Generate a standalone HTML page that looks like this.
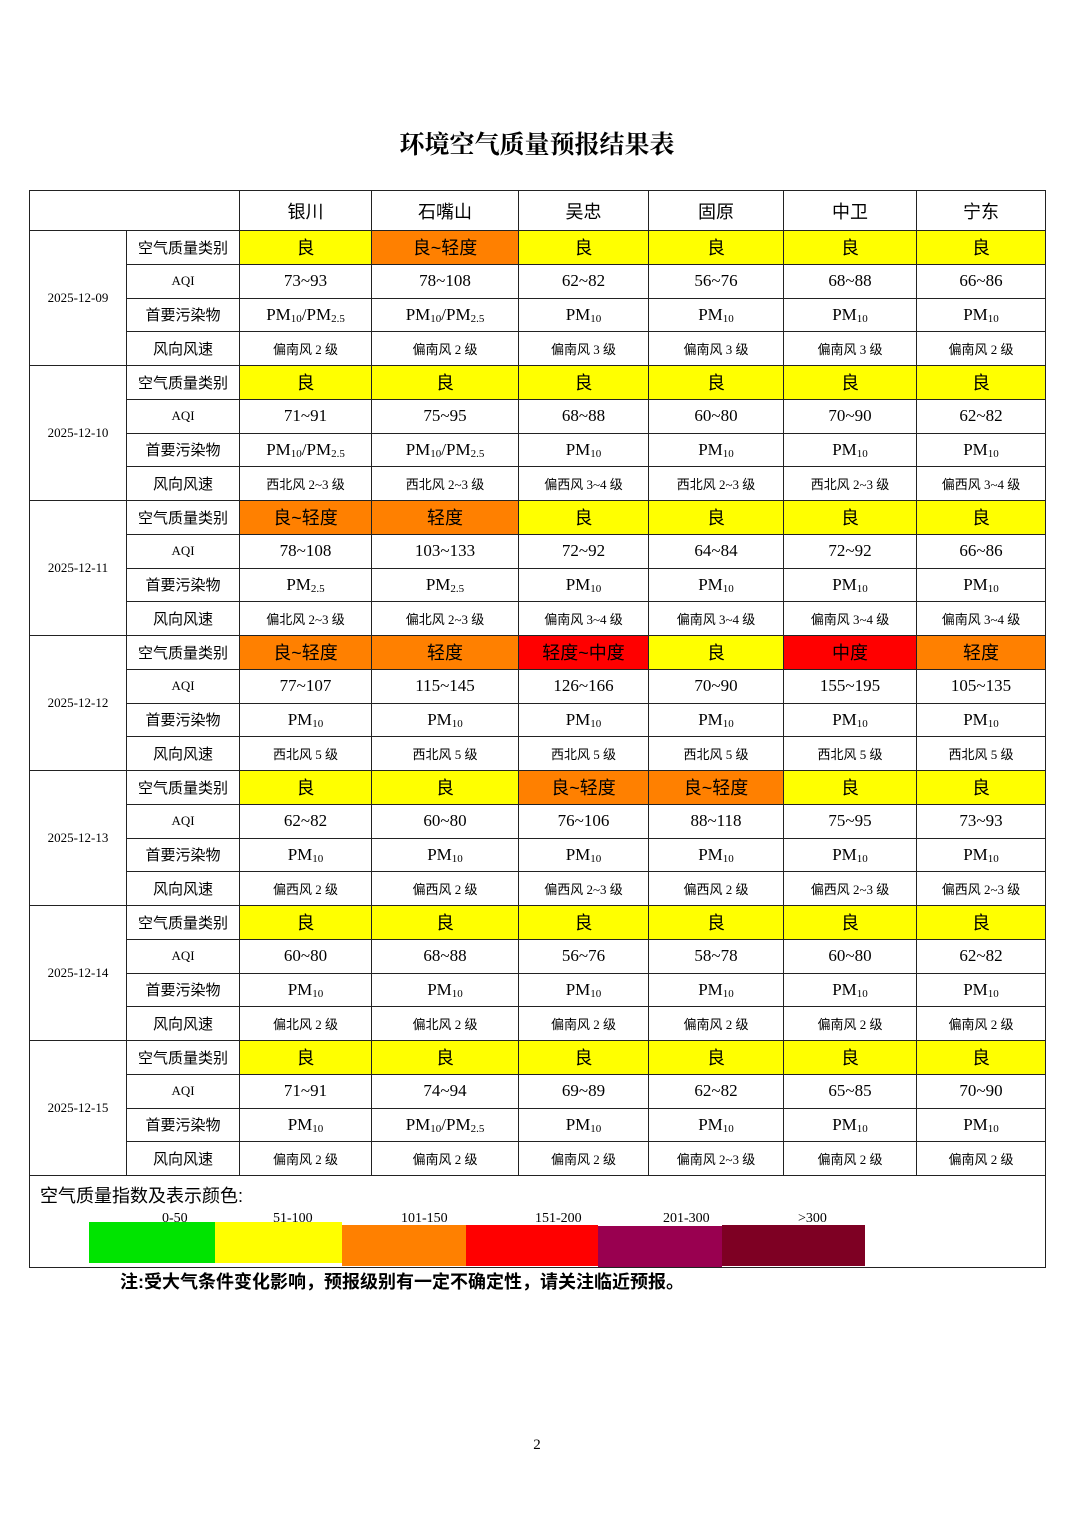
<!DOCTYPE html><html><head><meta charset="utf-8"><style>
body{margin:0;width:1074px;height:1520px;background:#fff;position:relative;font-family:"Liberation Serif","Noto Serif CJK SC",serif;}
.t{position:absolute;left:0;width:1074px;text-align:center;top:125px;font-size:25px;font-weight:bold;font-family:"Liberation Serif","Noto Serif CJK SC",serif;}
table{position:absolute;left:29px;top:190px;border-collapse:collapse;table-layout:fixed;width:1016px;}
td{border:1px solid #222;padding:0;text-align:center;white-space:nowrap;overflow:hidden;}
.s{font-family:"Liberation Sans","Noto Sans CJK SC",sans-serif;}
.h td{height:39px;font-size:18px;font-family:"Liberation Sans","Noto Sans CJK SC",sans-serif;}
.d{font-size:13px;}
.l{font-size:15px;font-family:"Liberation Sans","Noto Sans CJK SC",sans-serif;}
.la{font-size:13px;}
.c td.v{font-size:18px;font-family:"Liberation Sans","Noto Sans CJK SC",sans-serif;}
.a td.v{font-size:17px;}
.p td.v{font-size:17px;}
.w td.v{font-size:13px;font-family:"Liberation Serif","Noto Sans CJK SC",sans-serif;}
sub{font-size:11px;vertical-align:-2px;}
.Y{background:#ffff00}.O{background:#ff8000}.R{background:#ff0000}
tr.c,tr.a,tr.p,tr.w{height:33.75px}
.leg{position:absolute;top:1222px;height:41px}
.lt{position:absolute;top:1211px;font-size:14px;}
</style></head><body>
<div class="t">环境空气质量预报结果表</div>
<table>
<colgroup><col style="width:97px"><col style="width:113px"><col style="width:132px"><col style="width:147px"><col style="width:130px"><col style="width:135px"><col style="width:133px"><col style="width:129px"></colgroup>
<tr class="h"><td colspan="2"></td><td>银川</td><td>石嘴山</td><td>吴忠</td><td>固原</td><td>中卫</td><td>宁东</td></tr>

<tr class="c"><td rowspan="4" class="d">2025-12-09</td><td class="l">空气质量类别</td><td class="v Y">良</td><td class="v O">良~轻度</td><td class="v Y">良</td><td class="v Y">良</td><td class="v Y">良</td><td class="v Y">良</td></tr>
<tr class="a"><td class="la">AQI</td><td class="v">73~93</td><td class="v">78~108</td><td class="v">62~82</td><td class="v">56~76</td><td class="v">68~88</td><td class="v">66~86</td></tr>
<tr class="p"><td class="l">首要污染物</td><td class="v">PM<sub>10</sub>/PM<sub>2.5</sub></td><td class="v">PM<sub>10</sub>/PM<sub>2.5</sub></td><td class="v">PM<sub>10</sub></td><td class="v">PM<sub>10</sub></td><td class="v">PM<sub>10</sub></td><td class="v">PM<sub>10</sub></td></tr>
<tr class="w"><td class="l">风向风速</td><td class="v">偏南风 2 级</td><td class="v">偏南风 2 级</td><td class="v">偏南风 3 级</td><td class="v">偏南风 3 级</td><td class="v">偏南风 3 级</td><td class="v">偏南风 2 级</td></tr>

<tr class="c"><td rowspan="4" class="d">2025-12-10</td><td class="l">空气质量类别</td><td class="v Y">良</td><td class="v Y">良</td><td class="v Y">良</td><td class="v Y">良</td><td class="v Y">良</td><td class="v Y">良</td></tr>
<tr class="a"><td class="la">AQI</td><td class="v">71~91</td><td class="v">75~95</td><td class="v">68~88</td><td class="v">60~80</td><td class="v">70~90</td><td class="v">62~82</td></tr>
<tr class="p"><td class="l">首要污染物</td><td class="v">PM<sub>10</sub>/PM<sub>2.5</sub></td><td class="v">PM<sub>10</sub>/PM<sub>2.5</sub></td><td class="v">PM<sub>10</sub></td><td class="v">PM<sub>10</sub></td><td class="v">PM<sub>10</sub></td><td class="v">PM<sub>10</sub></td></tr>
<tr class="w"><td class="l">风向风速</td><td class="v">西北风 2~3 级</td><td class="v">西北风 2~3 级</td><td class="v">偏西风 3~4 级</td><td class="v">西北风 2~3 级</td><td class="v">西北风 2~3 级</td><td class="v">偏西风 3~4 级</td></tr>

<tr class="c"><td rowspan="4" class="d">2025-12-11</td><td class="l">空气质量类别</td><td class="v O">良~轻度</td><td class="v O">轻度</td><td class="v Y">良</td><td class="v Y">良</td><td class="v Y">良</td><td class="v Y">良</td></tr>
<tr class="a"><td class="la">AQI</td><td class="v">78~108</td><td class="v">103~133</td><td class="v">72~92</td><td class="v">64~84</td><td class="v">72~92</td><td class="v">66~86</td></tr>
<tr class="p"><td class="l">首要污染物</td><td class="v">PM<sub>2.5</sub></td><td class="v">PM<sub>2.5</sub></td><td class="v">PM<sub>10</sub></td><td class="v">PM<sub>10</sub></td><td class="v">PM<sub>10</sub></td><td class="v">PM<sub>10</sub></td></tr>
<tr class="w"><td class="l">风向风速</td><td class="v">偏北风 2~3 级</td><td class="v">偏北风 2~3 级</td><td class="v">偏南风 3~4 级</td><td class="v">偏南风 3~4 级</td><td class="v">偏南风 3~4 级</td><td class="v">偏南风 3~4 级</td></tr>

<tr class="c"><td rowspan="4" class="d">2025-12-12</td><td class="l">空气质量类别</td><td class="v O">良~轻度</td><td class="v O">轻度</td><td class="v R">轻度~中度</td><td class="v Y">良</td><td class="v R">中度</td><td class="v O">轻度</td></tr>
<tr class="a"><td class="la">AQI</td><td class="v">77~107</td><td class="v">115~145</td><td class="v">126~166</td><td class="v">70~90</td><td class="v">155~195</td><td class="v">105~135</td></tr>
<tr class="p"><td class="l">首要污染物</td><td class="v">PM<sub>10</sub></td><td class="v">PM<sub>10</sub></td><td class="v">PM<sub>10</sub></td><td class="v">PM<sub>10</sub></td><td class="v">PM<sub>10</sub></td><td class="v">PM<sub>10</sub></td></tr>
<tr class="w"><td class="l">风向风速</td><td class="v">西北风 5 级</td><td class="v">西北风 5 级</td><td class="v">西北风 5 级</td><td class="v">西北风 5 级</td><td class="v">西北风 5 级</td><td class="v">西北风 5 级</td></tr>

<tr class="c"><td rowspan="4" class="d">2025-12-13</td><td class="l">空气质量类别</td><td class="v Y">良</td><td class="v Y">良</td><td class="v O">良~轻度</td><td class="v O">良~轻度</td><td class="v Y">良</td><td class="v Y">良</td></tr>
<tr class="a"><td class="la">AQI</td><td class="v">62~82</td><td class="v">60~80</td><td class="v">76~106</td><td class="v">88~118</td><td class="v">75~95</td><td class="v">73~93</td></tr>
<tr class="p"><td class="l">首要污染物</td><td class="v">PM<sub>10</sub></td><td class="v">PM<sub>10</sub></td><td class="v">PM<sub>10</sub></td><td class="v">PM<sub>10</sub></td><td class="v">PM<sub>10</sub></td><td class="v">PM<sub>10</sub></td></tr>
<tr class="w"><td class="l">风向风速</td><td class="v">偏西风 2 级</td><td class="v">偏西风 2 级</td><td class="v">偏西风 2~3 级</td><td class="v">偏西风 2 级</td><td class="v">偏西风 2~3 级</td><td class="v">偏西风 2~3 级</td></tr>

<tr class="c"><td rowspan="4" class="d">2025-12-14</td><td class="l">空气质量类别</td><td class="v Y">良</td><td class="v Y">良</td><td class="v Y">良</td><td class="v Y">良</td><td class="v Y">良</td><td class="v Y">良</td></tr>
<tr class="a"><td class="la">AQI</td><td class="v">60~80</td><td class="v">68~88</td><td class="v">56~76</td><td class="v">58~78</td><td class="v">60~80</td><td class="v">62~82</td></tr>
<tr class="p"><td class="l">首要污染物</td><td class="v">PM<sub>10</sub></td><td class="v">PM<sub>10</sub></td><td class="v">PM<sub>10</sub></td><td class="v">PM<sub>10</sub></td><td class="v">PM<sub>10</sub></td><td class="v">PM<sub>10</sub></td></tr>
<tr class="w"><td class="l">风向风速</td><td class="v">偏北风 2 级</td><td class="v">偏北风 2 级</td><td class="v">偏南风 2 级</td><td class="v">偏南风 2 级</td><td class="v">偏南风 2 级</td><td class="v">偏南风 2 级</td></tr>

<tr class="c"><td rowspan="4" class="d">2025-12-15</td><td class="l">空气质量类别</td><td class="v Y">良</td><td class="v Y">良</td><td class="v Y">良</td><td class="v Y">良</td><td class="v Y">良</td><td class="v Y">良</td></tr>
<tr class="a"><td class="la">AQI</td><td class="v">71~91</td><td class="v">74~94</td><td class="v">69~89</td><td class="v">62~82</td><td class="v">65~85</td><td class="v">70~90</td></tr>
<tr class="p"><td class="l">首要污染物</td><td class="v">PM<sub>10</sub></td><td class="v">PM<sub>10</sub>/PM<sub>2.5</sub></td><td class="v">PM<sub>10</sub></td><td class="v">PM<sub>10</sub></td><td class="v">PM<sub>10</sub></td><td class="v">PM<sub>10</sub></td></tr>
<tr class="w"><td class="l">风向风速</td><td class="v">偏南风 2 级</td><td class="v">偏南风 2 级</td><td class="v">偏南风 2 级</td><td class="v">偏南风 2~3 级</td><td class="v">偏南风 2 级</td><td class="v">偏南风 2 级</td></tr>

<tr><td colspan="8" style="height:91px;text-align:left;vertical-align:top;"><div class="s" style="font-size:18px;margin:6px 0 0 10px;">空气质量指数及表示颜色:</div></td></tr>
</table>
<div class="leg" style="left:89px;width:126px;background:#00e400"></div>
<div class="leg" style="left:215px;width:127px;background:#ffff00"></div>
<div class="leg" style="left:342px;width:124px;top:1225px;background:#ff8000"></div>
<div class="leg" style="left:466px;width:132px;top:1225px;background:#ff0000"></div>
<div class="leg" style="left:598px;width:124px;top:1226px;background:#990050"></div>
<div class="leg" style="left:722px;width:143px;top:1225px;background:#7e0023"></div>
<div class="lt" style="left:162px">0-50</div>
<div class="lt" style="left:273px">51-100</div>
<div class="lt" style="left:401px">101-150</div>
<div class="lt" style="left:535px">151-200</div>
<div class="lt" style="left:663px">201-300</div>
<div class="lt" style="left:798px">&gt;300</div>
<div style="position:absolute;left:120px;top:1268px;font-size:18px;font-weight:bold;font-family:'Liberation Sans','Noto Sans CJK SC',sans-serif;">注:受大气条件变化影响，预报级别有一定不确定性，请关注临近预报。</div>
<div style="position:absolute;left:0;width:1074px;text-align:center;top:1437px;font-size:15px;">2</div>
</body></html>
